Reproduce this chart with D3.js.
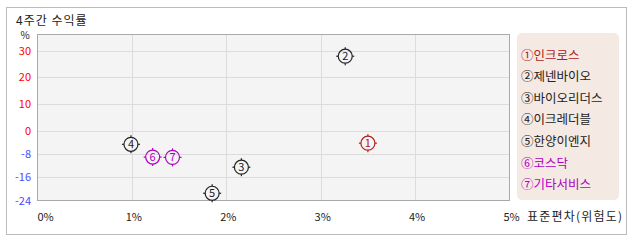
<!DOCTYPE html>
<html>
<head>
<meta charset="utf-8">
<script src="https://cdn.jsdelivr.net/npm/d3@7"></script>
<style>
  body { margin: 0; background: #fff; }
  svg text { font-family: "Noto Sans CJK KR", "Noto Sans", sans-serif; }
</style>
</head>
<body>
<div id="chart"></div>
<script>
// data
var names = ['인크로스', '제넨바이오', '바이오리더스', '이크레더블', '한양이엔지', '코스닥', '기타서비스']
var marks = ['①', '②', '③', '④', '⑤', '⑥', '⑦']
var risk = [3.50, 3.26, 2.16, 0.99, 1.85, 1.22, 1.43]      // 표준편차 %
var returns = [-4.2, 27.9, -12.5, -4.6, -21.5, -9.0, -9.1]  // 4주간 수익률 %
var colors = ['#b0201a', '#222', '#222', '#222', '#222', '#b000c0', '#b000c0']
var xTicks = [0, 1, 2, 3, 4, 5]
var yTicks = [30, 20, 10, 0, -8, -16, -24]

var W = 638, H = 242
var svg = d3.select('#chart').append('svg').attr('width', W).attr('height', H)

// outer frame
svg.append('rect').attr('x', 6.5).attr('y', 7.5).attr('width', 620).attr('height', 227)
  .attr('fill', '#fff').attr('stroke', '#bbb')

svg.append('text').attr('x', 16).attr('y', 25).text('4주간 수익률')
  .attr('font-size', 12).attr('letter-spacing', 1).attr('fill', '#222')

var pLeft = 37.5, pRight = 509.5, pTop = 34.5, pBottom = 200.5
var x = d3.scaleLinear().domain([0, 5]).range([pLeft, pRight])
// piecewise: positive side and negative side have different spacing
var y = d3.scaleLinear().domain([-24, 0, 36]).range([pBottom, 131, pTop])

svg.append('rect').attr('x', pLeft).attr('y', pTop).attr('width', pRight - pLeft).attr('height', pBottom - pTop)
  .attr('fill', '#f4f4f4')

// grid
svg.append('g').selectAll('line').data(yTicks.filter(function(d){ return d > -24 })).enter().append('line')
  .attr('x1', pLeft).attr('x2', pRight)
  .attr('y1', function(d){ return Math.round(y(d)) + .5 }).attr('y2', function(d){ return Math.round(y(d)) + .5 })
  .attr('stroke', '#dcdcdc')
svg.append('g').selectAll('line').data(xTicks.filter(function(d){ return d > 0 && d < 5 })).enter().append('line')
  .attr('y1', pTop).attr('y2', pBottom)
  .attr('x1', function(d){ return Math.round(x(d)) + .5 }).attr('x2', function(d){ return Math.round(x(d)) + .5 })
  .attr('stroke', '#dcdcdc')

svg.append('rect').attr('x', pLeft).attr('y', pTop).attr('width', pRight - pLeft).attr('height', pBottom - pTop)
  .attr('fill', 'none').attr('stroke', '#aaa')

// y labels
svg.append('text').attr('x', 25).attr('y', 39).attr('text-anchor', 'middle')
  .attr('font-size', 10).attr('fill', '#222').text('%')
svg.append('g').selectAll('text').data(yTicks).enter().append('text')
  .attr('x', 31).attr('y', function(d){ return y(d) + 4 })
  .attr('text-anchor', 'end').attr('font-size', 11)
  .attr('fill', function(d){ return d >= 0 ? '#ff0000' : '#4a4aff' })
  .text(function(d){ return d })

// x labels
svg.append('g').selectAll('text').data(xTicks).enter().append('text')
  .attr('x', function(d){ return d == 0 ? x(d) : x(d) + 2 })
  .attr('y', 221)
  .attr('text-anchor', function(d){ return d == 0 ? 'start' : 'middle' })
  .attr('font-size', 11).attr('fill', '#222')
  .text(function(d){ return d + '%' })
svg.append('text').attr('x', 527).attr('y', 221).attr('font-size', 12).attr('letter-spacing', 1.2).attr('fill', '#222')
  .text('표준편차(위험도)')

// points
var pts = svg.append('g').selectAll('g').data(names).enter().append('g')
  .attr('transform', function(d, i){ return 'translate(' + x(risk[i]) + ',' + y(returns[i]) + ')' })
pts.append('circle').attr('r', 7).attr('fill', 'none')
  .attr('stroke', function(d, i){ return colors[i] }).attr('stroke-width', 1.2)
pts.each(function(d, i){
  var g = d3.select(this)
  ;[[0, -7, 0, -9], [0, 7, 0, 9], [-7, 0, -9, 0], [7, 0, 9, 0]].forEach(function(t){
    g.append('line').attr('x1', t[0]).attr('y1', t[1]).attr('x2', t[2]).attr('y2', t[3])
      .attr('stroke', colors[i]).attr('stroke-width', 1.2)
  })
})
pts.append('text').attr('text-anchor', 'middle').attr('y', 4).attr('font-size', 11)
  .attr('fill', function(d, i){ return colors[i] })
  .text(function(d, i){ return i + 1 })

// legend
svg.append('rect').attr('x', 517).attr('y', 33).attr('width', 102).attr('height', 167).attr('rx', 5)
  .attr('fill', '#f5e9e3')
svg.append('g').selectAll('text').data(names).enter().append('text')
  .attr('x', 521).attr('y', function(d, i){ return 59.5 + i * 21.6 })
  .attr('font-size', 12.5).attr('fill', function(d, i){ return colors[i] })
  .text(function(d, i){ return marks[i] + d })
</script>
</body>
</html>
